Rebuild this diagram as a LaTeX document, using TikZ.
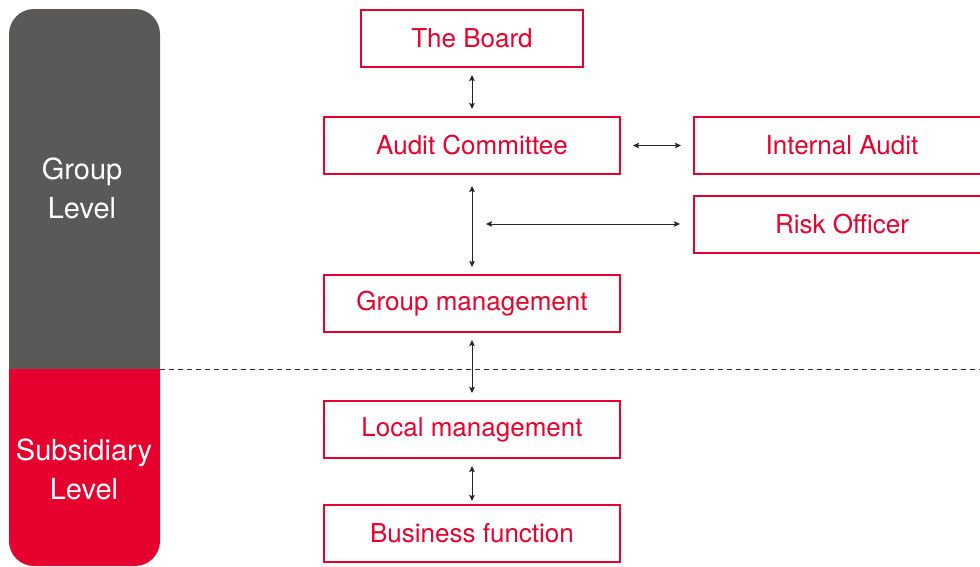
\documentclass[tikz,border=0pt]{standalone}
\usepackage{fontspec}
\setmainfont{TeX Gyre Heros}
\usepackage{tikz}
\usetikzlibrary{arrows.meta,positioning,calc}
\definecolor{brandred}{HTML}{E5002D}
\definecolor{brandgray}{HTML}{5B5957}
\tikzstyle{box}    =[rectangle, draw=brandred, line width=2pt, text=brandred,
                     minimum height=57pt, minimum width=296pt, inner sep=0pt,
                     font=\fontsize{26}{30}\selectfont]
\tikzstyle{edge}   =[<->, >={Stealth[length=6pt, width=5.5pt, inset=1pt]},
                     line width=1pt, black!85, shorten <=7pt, shorten >=7pt]
\tikzstyle{level}  =[align=center, text=white, inner sep=0pt,
                     font=\fontsize{29}{39}\selectfont]
\tikzstyle{divider}=[black!80, line width=0.9pt, dash pattern=on 5pt off 4pt]

\begin{document}
\begin{tikzpicture}[x=1pt, y=-1pt]
            \clip (0,0) rectangle (980,566);
            % level bar
            \fill[brandgray] (9,369) [rounded corners=25pt] -- (9,9) -- (160,9)
                [sharp corners] -- (160,369) -- cycle;
            \fill[brandred] (9,369) -- (160,369) [rounded corners=25pt] -- (160,566)
                -- (9,566) [sharp corners] -- cycle;
            \node[level] (gl) at (82,188.5) {Group\\Level};
            \node[level] (sl) at (84,469) {Subsidiary\\Level};
            \draw[divider] (160,369) -- (980,369);
            % boxes
            \node[box, minimum width=222pt] (b) at (472,38.5) {The Board};
            \node[box] (a) at (472,145.5) {Audit Committee};
            \node[box] (i) [right=72pt of a] {Internal Audit};
            \node[box] (r) at (842,224) {Risk Officer};
            \node[box] (g) at (472,303.5) {Group management};
            \node[box] (l) at (472,429.5) {Local management};
            \node[box] (f) at (472,533.5) {Business function};
            \coordinate (m) at (486,224);
            % links
            \draw[edge] (b) to (a);
            \draw[edge, shorten <=12pt, shorten >=12pt] (a) to (i);
            \draw[edge, shorten <=11pt] (a) to (g);
            \draw[edge, shorten <=0pt, shorten >=13pt] (m) to (r);
            \draw[edge] (g) to (l);
            \draw[edge, shorten >=3pt] (l) to (f);
        \end{tikzpicture}
\end{document}
